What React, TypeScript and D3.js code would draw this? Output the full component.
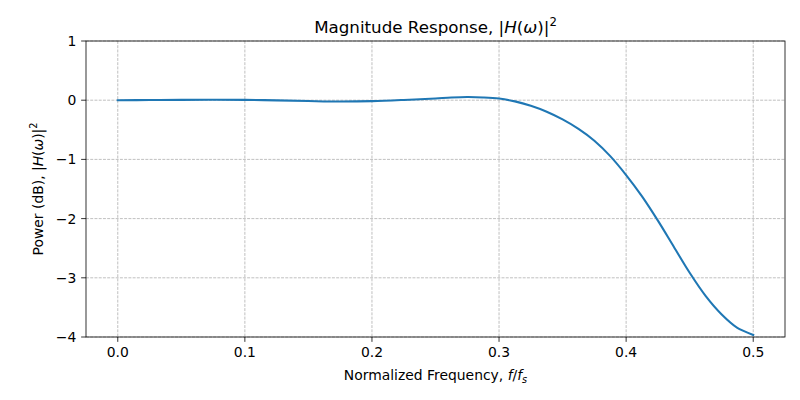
import React from "react";
import * as d3 from "d3";

const freq = [0, 0.025, 0.05, 0.075, 0.1, 0.125, 0.15, 0.175, 0.2, 0.225, 0.25, 0.2625, 0.275, 0.2875, 0.3, 0.3125, 0.325, 0.3375, 0.35, 0.3625, 0.375, 0.3875, 0.4, 0.4125, 0.425, 0.4375, 0.45, 0.4625, 0.475, 0.4875, 0.5];
const power = [0, 0.003, 0.006, 0.007, 0.005, -0.003, -0.014, -0.022, -0.016, 0.004, 0.03, 0.045, 0.053, 0.047, 0.028, -0.02, -0.095, -0.195, -0.325, -0.485, -0.685, -0.945, -1.265, -1.625, -2.035, -2.475, -2.915, -3.305, -3.615, -3.845, -3.965];
const xTicks = [0, 0.1, 0.2, 0.3, 0.4, 0.5];
const yTicks = [-4, -3, -2, -1, 0, 1];

const W = 800, H = 400;
const L = 86, R = 785, T = 41, B = 337;
const FONT = "DejaVu Sans";

export default function App() {
  const x = d3.scaleLinear().domain([-0.025, 0.525]).range([L, R]);
  const y = d3.scaleLinear().domain([-4, 1]).range([B, T]);
  const pts = freq.map((f, i) => [f, power[i]] as [number, number]);
  const line = d3
    .line<[number, number]>()
    .x((d) => x(d[0]))
    .y((d) => y(d[1]))
    .curve(d3.curveCatmullRom.alpha(0.5));
  const fmtY = (v: number) => (v < 0 ? "\u2212" + Math.abs(v) : String(v));
  return (
    <svg width={W} height={H} style={{ position: "absolute", left: 0, top: 0, background: "#fff" }} fontFamily={FONT}>
      <rect x={0} y={0} width={W} height={H} fill="#fff" />
      {xTicks.map((t) => (
        <line key={"gx" + t} x1={x(t)} x2={x(t)} y1={T} y2={B} stroke="#b0b0b0" strokeWidth={0.8} strokeDasharray="2.96,1.28" />
      ))}
      {yTicks.map((t) => (
        <line key={"gy" + t} x1={L} x2={R} y1={y(t)} y2={y(t)} stroke="#b0b0b0" strokeWidth={0.8} strokeDasharray="2.96,1.28" />
      ))}
      <path d={line(pts) || ""} fill="none" stroke="#1f77b4" strokeWidth={2.08} strokeLinecap="square" />
      <rect x={L} y={T} width={R - L} height={B - T} fill="none" stroke="#000" strokeWidth={0.8} />
      {xTicks.map((t) => (
        <g key={"xt" + t}>
          <line x1={x(t)} x2={x(t)} y1={B} y2={B + 4.86} stroke="#000" strokeWidth={0.8} />
          <text x={x(t)} y={357} textAnchor="middle" fontSize={13.9}>
            {t.toFixed(1)}
          </text>
        </g>
      ))}
      {yTicks.map((t) => (
        <g key={"yt" + t}>
          <line x1={L - 4.86} x2={L} y1={y(t)} y2={y(t)} stroke="#000" strokeWidth={0.8} />
          <text x={76.3} y={y(t) + 5} textAnchor="end" fontSize={13.9}>
            {fmtY(t)}
          </text>
        </g>
      ))}
      <text x={(L + R) / 2} y={33} textAnchor="middle" fontSize={16.7}>
        Magnitude Response, |<tspan fontStyle="italic">H</tspan>(<tspan fontStyle="italic">ω</tspan>)|
        <tspan fontSize={11.7} dy={-7}>2</tspan>
      </text>
      <text x={(L + R) / 2} y={380} textAnchor="middle" fontSize={13.9}>
        Normalized Frequency, <tspan fontStyle="italic">f</tspan>/<tspan fontStyle="italic">f</tspan>
        <tspan fontStyle="italic" fontSize={9.7} dy={3}>s</tspan>
      </text>
      <text transform={`translate(43,${(T + B) / 2}) rotate(-90)`} textAnchor="middle" fontSize={13.9}>
        Power (dB), |<tspan fontStyle="italic">H</tspan>(<tspan fontStyle="italic">ω</tspan>)|
        <tspan fontSize={9.7} dy={-6}>2</tspan>
      </text>
    </svg>
  );
}
